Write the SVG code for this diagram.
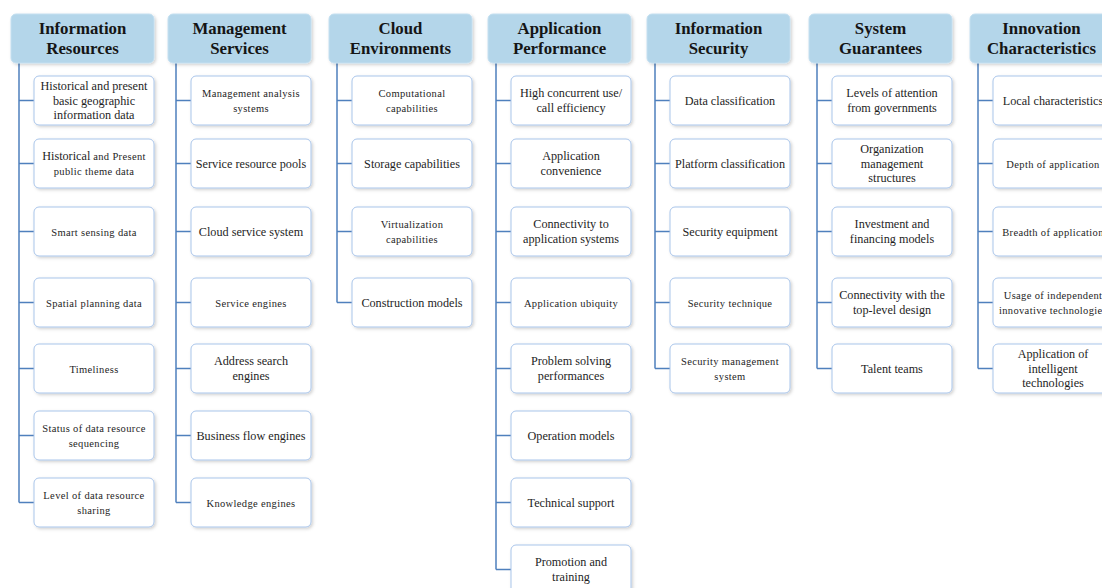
<svg xmlns="http://www.w3.org/2000/svg" width="1102" height="588" viewBox="0 0 1102 588">
<defs>
<filter id="sh" x="-10%" y="-10%" width="130%" height="140%">
<feDropShadow dx="1.5" dy="1.5" stdDeviation="1.5" flood-color="#000" flood-opacity="0.18"/>
</filter>
<style>
.hd{fill:#b4d6ea;stroke:#c4dff0;stroke-width:1;filter:url(#sh)}
.hdt{font-family:"Liberation Serif","Times New Roman",serif;font-weight:bold;font-size:16.8px;fill:#151515;text-anchor:middle}
.bx{fill:#ffffff;stroke:#a9c5ea;stroke-width:1;filter:url(#sh)}
.t{font-family:"Liberation Serif","Times New Roman",serif;font-size:12.2px;fill:#1e1e1e;text-anchor:middle}
.s{font-family:"Liberation Serif","Times New Roman",serif;font-size:10.5px;letter-spacing:0.35px;fill:#1e1e1e;text-anchor:middle}
.cn{fill:none;stroke:#4f80bd;stroke-width:1.5}
</style>
</defs>
<rect width="1102" height="588" fill="#ffffff"/>

<g id="connectors">
<path class="cn" d="M19,63V502.5M19,100.5H34M19,163.5H34M19,231.5H34M19,302.5H34M19,368.5H34M19,435.5H34M19,502.5H34"/>
<path class="cn" d="M176,63V502.5M176,100.5H191M176,163.5H191M176,231.5H191M176,302.5H191M176,368.5H191M176,435.5H191M176,502.5H191"/>
<path class="cn" d="M337,63V302.5M337,100.5H352M337,163.5H352M337,231.5H352M337,302.5H352"/>
<path class="cn" d="M496,63V569.5M496,100.5H511M496,163.5H511M496,231.5H511M496,302.5H511M496,368.5H511M496,435.5H511M496,502.5H511M496,569.5H511"/>
<path class="cn" d="M655,63V368.5M655,100.5H670M655,163.5H670M655,231.5H670M655,302.5H670M655,368.5H670"/>
<path class="cn" d="M817,63V368.5M817,100.5H832M817,163.5H832M817,231.5H832M817,302.5H832M817,368.5H832"/>
<path class="cn" d="M978,63V368.5M978,100.5H993M978,163.5H993M978,231.5H993M978,302.5H993M978,368.5H993"/>
</g>

<!-- Column 1 -->
<g id="h1"><rect class="hd" x="11" y="14" width="143" height="49" rx="5"/><text class="hdt" x="82.5" y="34">Information</text><text class="hdt" x="82.5" y="54">Resources</text></g>
<g id="n1-1"><rect class="bx" x="34" y="76" width="120" height="49" rx="5"/><text class="t" x="94" y="90">Historical and present</text><text class="t" x="94" y="104.5">basic geographic</text><text class="t" x="94" y="119">information data</text></g>
<g id="n1-2"><rect class="bx" x="34" y="139" width="120" height="49" rx="5"/><text class="t" x="94" y="160.25">Historical<tspan style="font-size:10.5px;letter-spacing:0.35px"> and Present</tspan></text><text class="s" x="94" y="174.75">public theme data</text></g>
<g id="n1-3"><rect class="bx" x="34" y="207" width="120" height="49" rx="5"/><text class="s" x="94" y="235.5">Smart sensing data</text></g>
<g id="n1-4"><rect class="bx" x="34" y="278" width="120" height="49" rx="5"/><text class="s" x="94" y="306.5">Spatial planning data</text></g>
<g id="n1-5"><rect class="bx" x="34" y="344" width="120" height="49" rx="5"/><text class="s" x="94" y="372.5">Timeliness</text></g>
<g id="n1-6"><rect class="bx" x="34" y="411" width="120" height="49" rx="5"/><text class="s" x="94" y="432.25">Status of data resource</text><text class="s" x="94" y="446.75">sequencing</text></g>
<g id="n1-7"><rect class="bx" x="34" y="478" width="120" height="49" rx="5"/><text class="s" x="94" y="499.25">Level of data resource</text><text class="s" x="94" y="513.75">sharing</text></g>

<!-- Column 2 -->
<g id="h2"><rect class="hd" x="168" y="14" width="143" height="49" rx="5"/><text class="hdt" x="239.5" y="34">Management</text><text class="hdt" x="239.5" y="54">Services</text></g>
<g id="n2-1"><rect class="bx" x="191" y="76" width="120" height="49" rx="5"/><text class="s" x="251" y="97.25">Management analysis</text><text class="s" x="251" y="111.75">systems</text></g>
<g id="n2-2"><rect class="bx" x="191" y="139" width="120" height="49" rx="5"/><text class="t" x="251" y="167.5">Service resource pools</text></g>
<g id="n2-3"><rect class="bx" x="191" y="207" width="120" height="49" rx="5"/><text class="t" x="251" y="235.5">Cloud service system</text></g>
<g id="n2-4"><rect class="bx" x="191" y="278" width="120" height="49" rx="5"/><text class="s" x="251" y="306.5">Service engines</text></g>
<g id="n2-5"><rect class="bx" x="191" y="344" width="120" height="49" rx="5"/><text class="t" x="251" y="365.25">Address search</text><text class="t" x="251" y="379.75">engines</text></g>
<g id="n2-6"><rect class="bx" x="191" y="411" width="120" height="49" rx="5"/><text class="t" x="251" y="439.5">Business flow engines</text></g>
<g id="n2-7"><rect class="bx" x="191" y="478" width="120" height="49" rx="5"/><text class="s" x="251" y="506.5">Knowledge engines</text></g>

<!-- Column 3 -->
<g id="h3"><rect class="hd" x="329" y="14" width="143" height="49" rx="5"/><text class="hdt" x="400.5" y="34">Cloud</text><text class="hdt" x="400.5" y="54">Environments</text></g>
<g id="n3-1"><rect class="bx" x="352" y="76" width="120" height="49" rx="5"/><text class="s" x="412" y="97.25">Computational</text><text class="s" x="412" y="111.75">capabilities</text></g>
<g id="n3-2"><rect class="bx" x="352" y="139" width="120" height="49" rx="5"/><text class="t" x="412" y="167.5">Storage capabilities</text></g>
<g id="n3-3"><rect class="bx" x="352" y="207" width="120" height="49" rx="5"/><text class="s" x="412" y="228.25">Virtualization</text><text class="s" x="412" y="242.75">capabilities</text></g>
<g id="n3-4"><rect class="bx" x="352" y="278" width="120" height="49" rx="5"/><text class="t" x="412" y="306.5">Construction models</text></g>

<!-- Column 4 -->
<g id="h4"><rect class="hd" x="488" y="14" width="143" height="49" rx="5"/><text class="hdt" x="559.5" y="34">Application</text><text class="hdt" x="559.5" y="54">Performance</text></g>
<g id="n4-1"><rect class="bx" x="511" y="76" width="120" height="49" rx="5"/><text class="t" x="571" y="97.25">High concurrent use/</text><text class="t" x="571" y="111.75">call efficiency</text></g>
<g id="n4-2"><rect class="bx" x="511" y="139" width="120" height="49" rx="5"/><text class="t" x="571" y="160.25">Application</text><text class="t" x="571" y="174.75">convenience</text></g>
<g id="n4-3"><rect class="bx" x="511" y="207" width="120" height="49" rx="5"/><text class="t" x="571" y="228.25">Connectivity to</text><text class="t" x="571" y="242.75">application systems</text></g>
<g id="n4-4"><rect class="bx" x="511" y="278" width="120" height="49" rx="5"/><text class="s" x="571" y="306.5">Application ubiquity</text></g>
<g id="n4-5"><rect class="bx" x="511" y="344" width="120" height="49" rx="5"/><text class="t" x="571" y="365.25">Problem solving</text><text class="t" x="571" y="379.75">performances</text></g>
<g id="n4-6"><rect class="bx" x="511" y="411" width="120" height="49" rx="5"/><text class="t" x="571" y="439.5">Operation models</text></g>
<g id="n4-7"><rect class="bx" x="511" y="478" width="120" height="49" rx="5"/><text class="t" x="571" y="506.5">Technical support</text></g>
<g id="n4-8"><rect class="bx" x="511" y="545" width="120" height="49" rx="5"/><text class="t" x="571" y="566.25">Promotion and</text><text class="t" x="571" y="580.75">training</text></g>

<!-- Column 5 -->
<g id="h5"><rect class="hd" x="647" y="14" width="143" height="49" rx="5"/><text class="hdt" x="718.5" y="34">Information</text><text class="hdt" x="718.5" y="54">Security</text></g>
<g id="n5-1"><rect class="bx" x="670" y="76" width="120" height="49" rx="5"/><text class="t" x="730" y="104.5">Data classification</text></g>
<g id="n5-2"><rect class="bx" x="670" y="139" width="120" height="49" rx="5"/><text class="t" x="730" y="167.5">Platform classification</text></g>
<g id="n5-3"><rect class="bx" x="670" y="207" width="120" height="49" rx="5"/><text class="t" x="730" y="235.5">Security equipment</text></g>
<g id="n5-4"><rect class="bx" x="670" y="278" width="120" height="49" rx="5"/><text class="s" x="730" y="306.5">Security technique</text></g>
<g id="n5-5"><rect class="bx" x="670" y="344" width="120" height="49" rx="5"/><text class="s" x="730" y="365.25">Security management</text><text class="s" x="730" y="379.75">system</text></g>

<!-- Column 6 -->
<g id="h6"><rect class="hd" x="809" y="14" width="143" height="49" rx="5"/><text class="hdt" x="880.5" y="34">System</text><text class="hdt" x="880.5" y="54">Guarantees</text></g>
<g id="n6-1"><rect class="bx" x="832" y="76" width="120" height="49" rx="5"/><text class="t" x="892" y="97.25">Levels of attention</text><text class="t" x="892" y="111.75">from governments</text></g>
<g id="n6-2"><rect class="bx" x="832" y="139" width="120" height="49" rx="5"/><text class="t" x="892" y="153">Organization</text><text class="t" x="892" y="167.5">management</text><text class="t" x="892" y="182">structures</text></g>
<g id="n6-3"><rect class="bx" x="832" y="207" width="120" height="49" rx="5"/><text class="t" x="892" y="228.25">Investment and</text><text class="t" x="892" y="242.75">financing models</text></g>
<g id="n6-4"><rect class="bx" x="832" y="278" width="120" height="49" rx="5"/><text class="t" x="892" y="299.25">Connectivity with the</text><text class="t" x="892" y="313.75">top-level design</text></g>
<g id="n6-5"><rect class="bx" x="832" y="344" width="120" height="49" rx="5"/><text class="t" x="892" y="372.5">Talent teams</text></g>

<!-- Column 7 -->
<g id="h7"><rect class="hd" x="970" y="14" width="143" height="49" rx="5"/><text class="hdt" x="1041.5" y="34">Innovation</text><text class="hdt" x="1041.5" y="54">Characteristics</text></g>
<g id="n7-1"><rect class="bx" x="993" y="76" width="120" height="49" rx="5"/><text class="t" x="1053" y="104.5">Local characteristics</text></g>
<g id="n7-2"><rect class="bx" x="993" y="139" width="120" height="49" rx="5"/><text class="s" x="1053" y="167.5">Depth of application</text></g>
<g id="n7-3"><rect class="bx" x="993" y="207" width="120" height="49" rx="5"/><text class="s" x="1053" y="235.5">Breadth of application</text></g>
<g id="n7-4"><rect class="bx" x="993" y="278" width="120" height="49" rx="5"/><text class="s" x="1053" y="299.25">Usage of independent</text><text class="s" x="1053" y="313.75">innovative technologies</text></g>
<g id="n7-5"><rect class="bx" x="993" y="344" width="120" height="49" rx="5"/><text class="t" x="1053" y="358">Application of</text><text class="t" x="1053" y="372.5">intelligent</text><text class="t" x="1053" y="387">technologies</text></g>
</svg>
